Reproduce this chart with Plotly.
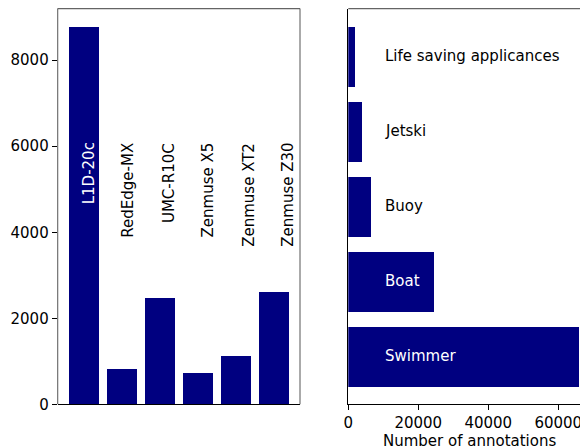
import plotly.graph_objects as go

# ---- data ----
sensors = ["L1D-20c", "RedEdge-MX", "UMC-R10C", "Zenmuse X5", "Zenmuse XT2", "Zenmuse Z30"]
sensor_counts = [8790, 823, 2478, 730, 1126, 2618]

classes = ["Swimmer", "Boat", "Buoy", "Jetski", "Life saving applicances"]
class_counts = [65900, 24500, 6500, 3900, 1900]

left_ticks = [0, 2000, 4000, 6000, 8000]
right_ticks = [0, 20000, 40000, 60000]

# ---- style / layout ----
# page body has an 8px margin, so the figure is 580x440 starting at (8, 8)
OFF = 8
W, H = 588 - OFF, 448 - OFF
NAVY = "#000080"
FONT = "DejaVu Sans"
FS = 15
SPINE_GRAY = "#646464"

def px_x(v):
    return (v - OFF) / W

def px_y(v):
    return (H - (v - OFF)) / H

left_dom_x = [px_x(57.7), px_x(300.0)]
right_dom_x = [px_x(348.3), 1.0]
dom_y = [px_y(404.3), px_y(8.6)]

left_label_y = 6130      # top of rotated labels (data units)
right_label_x = 10000    # left edge of class labels (data units)

fig = go.Figure()

fig.add_trace(go.Bar(
    x=sensors, y=sensor_counts, width=0.8,
    marker=dict(color=NAVY, line=dict(width=0)),
    xaxis="x", yaxis="y", showlegend=False, hoverinfo="skip",
))
fig.add_trace(go.Bar(
    x=class_counts, y=classes, orientation="h", width=0.8,
    marker=dict(color=NAVY, line=dict(width=0)),
    xaxis="x2", yaxis="y2", showlegend=False, hoverinfo="skip",
))

annotations = []
for i, (name, v) in enumerate(zip(sensors, sensor_counts)):
    annotations.append(dict(
        x=0.125 + 1.05 * i, y=left_label_y, xref="x", yref="y",
        text=name, textangle=-90, showarrow=False,
        xanchor="center", yanchor="top",
        font=dict(family=FONT, size=FS, color="white" if v > left_label_y else "black"),
    ))
for name, v in zip(classes, class_counts):
    annotations.append(dict(
        x=right_label_x, y=name, xref="x2", yref="y2",
        text=name, showarrow=False, xanchor="left", yanchor="middle",
        font=dict(family=FONT, size=FS, color="white" if v > right_label_x else "black"),
    ))
annotations.append(dict(
    x=px_x((348.3 + 590.5) / 2), y=px_y(440.5), xref="paper", yref="paper",
    text="Number of annotations", showarrow=False, xanchor="center", yanchor="middle",
    font=dict(family=FONT, size=FS, color="black"),
))

shapes = [
    dict(type="line", xref="x domain", yref="y domain", x0=0, x1=0, y0=0, y1=1,
         line=dict(color=SPINE_GRAY, width=1.1), layer="above"),
    dict(type="line", xref="x domain", yref="y domain", x0=0, x1=1, y0=1, y1=1,
         line=dict(color=SPINE_GRAY, width=1.1), layer="above"),
    dict(type="line", xref="x domain", yref="y domain", x0=1, x1=1, y0=0, y1=1,
         line=dict(color=SPINE_GRAY, width=1.1), layer="above"),
    dict(type="line", xref="x2 domain", yref="y2 domain", x0=0, x1=1, y0=1, y1=1,
         line=dict(color=SPINE_GRAY, width=1.1), layer="above"),
]

tickfont = dict(family=FONT, size=FS, color="black")

fig.update_layout(
    template="none",
    width=W, height=H,
    margin=dict(l=0, r=0, t=0, b=0, pad=0, autoexpand=False),
    paper_bgcolor="white", plot_bgcolor="white",
    font=dict(family=FONT, size=FS, color="black"),
    bargap=0,
    xaxis=dict(
        domain=left_dom_x, anchor="y", type="category", automargin=False,
        categoryorder="array", categoryarray=sensors,
        range=[-0.69, 5.69], showticklabels=False, ticks="",
        showgrid=False, zeroline=False,
        showline=True, linecolor="black", linewidth=1.1,
    ),
    yaxis=dict(
        domain=dom_y, anchor="x", range=[0, 9200], automargin=False,
        tickvals=left_ticks, ticktext=[str(t) for t in left_ticks],
        ticks="outside", ticklen=5, tickwidth=1.1, tickcolor="black",
        tickfont=tickfont, showgrid=False, zeroline=False, showline=False,
    ),
    xaxis2=dict(
        domain=right_dom_x, anchor="y2", automargin=False,
        range=[0, (588 - 348.3) / 70.0 * 20000],
        tickvals=right_ticks, ticktext=[str(t) for t in right_ticks],
        ticks="outside", ticklen=5, tickwidth=1.1, tickcolor="black",
        tickfont=tickfont, showgrid=False, zeroline=False,
        showline=True, linecolor="black", linewidth=1.1,
    ),
    yaxis2=dict(
        domain=dom_y, anchor="x2", type="category", automargin=False,
        categoryorder="array", categoryarray=classes,
        range=[-0.64, 4.636], showticklabels=False, ticks="",
        showgrid=False, zeroline=False,
        showline=True, linecolor="black", linewidth=1.1,
    ),
    annotations=annotations,
    shapes=shapes,
)

fig.write_html("out.html")
